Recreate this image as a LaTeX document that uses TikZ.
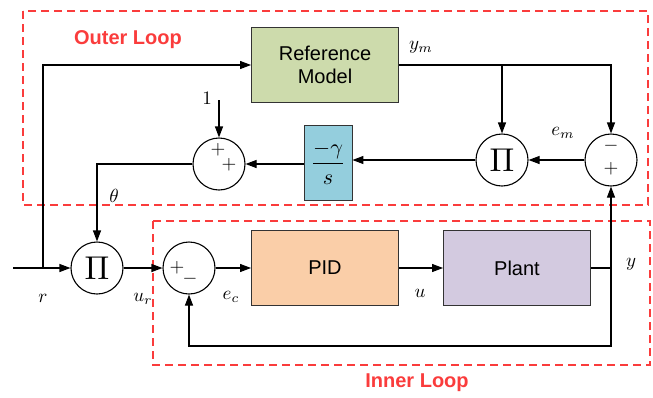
\documentclass[tikz,border=0pt]{standalone}
\usepackage{fontspec}
\setmainfont{Liberation Sans}
\usetikzlibrary{arrows.meta}

\definecolor{refgreen}{RGB}{205,219,172}
\definecolor{gainblue}{RGB}{148,206,221}
\definecolor{pidorange}{RGB}{250,206,168}
\definecolor{plantlilac}{RGB}{211,202,224}
\definecolor{loopred}{RGB}{250,60,60}

% enlarged math symbol
\newcommand{\bigsym}[2]{\scalebox{#1}{$#2$}}

\begin{document}
\begin{tikzpicture}[
  x=1pt, y=-1pt,
  >={Triangle[length=11pt,width=8pt]},
  line width=1.1pt,
  block/.style={draw=black!80, line width=0.9pt, minimum width=147pt,
    minimum height=75pt, align=center, font=\fontsize{20}{23}\selectfont},
  junction/.style={draw, circle, minimum size=52pt, inner sep=0pt},
  loopbox/.style={draw=loopred, line width=1.1pt, dash pattern=on 8pt off 5pt},
  looptitle/.style={text=loopred, font=\fontsize{20}{23}\selectfont\bfseries}
]
  \useasboundingbox (0,0) rectangle (653,397);

  % Loop frames
  \draw[loopbox] (23,11) rectangle (648,205);
  \draw[loopbox] (153,221) rectangle (650,365);
  \node[looptitle] (outertitle) at (128,40) {Outer Loop};
  \node[looptitle] (innertitle) at (417,383) {Inner Loop};

  % Blocks
  \node[block, fill=refgreen] (refmodel) at (325,65) {Reference\\Model};
  \node[block, fill=gainblue, minimum width=48pt, font=\normalsize]
    (gain) at (328,163) {\bigsym{2.2}{\displaystyle\frac{-\gamma}{s}}};
  \node[block, fill=pidorange] (pid) at (325,268) {PID};
  \node[block, fill=plantlilac] (plant) at (517,268) {Plant};

  % Junctions
  \node[junction] (sumone) at (219,164) {};
  \node[junction] (prodm) at (502,160) {\bigsym{3.3}{\Pi}};
  \node[junction] (errm) at (611,160) {};
  \node[junction] (prodr) at (97,268) {\bigsym{3.3}{\Pi}};
  \node[junction] (sumc) at (189,268) {};

  % Signs
  \node (sgnonea) at (218,150) {\bigsym{1.9}{+}};
  \node (sgnoneb) at (229,165) {\bigsym{1.9}{+}};
  \node (sgnca) at (177,268) {\bigsym{1.9}{+}};
  \node (sgncb) at (190,279) {\bigsym{1.9}{-}};
  \node (sgnma) at (611,146) {\bigsym{1.9}{-}};
  \node (sgnmb) at (611,169) {\bigsym{1.9}{+}};

  % Free ends
  \coordinate (rin) at (13,268);
  \coordinate (rsplit) at (43,268);
  \coordinate (one) at (219,100);
  \coordinate (ysplit) at (611,268);
  \coordinate (fbcorner) at (611,346);

  % Outer loop signals
  \draw[->] (rsplit) |- (refmodel.west);
  \draw[->] (refmodel.east) -| (errm.north);
  \draw[->] (prodm.north |- refmodel.east) -- (prodm.north);
  \draw[->] (errm.west) -- (prodm.east);
  \draw[->] (prodm.west) -- (prodm.west -| gain.east);
  \draw[->] (gain.west |- sumone.east) -- (sumone.east);
  \draw[->] (one) -- (sumone.north);
  \draw[->] (sumone.west) -| (prodr.north);

  % Inner loop signals
  \draw[->] (rin) -- (prodr.west);
  \draw[->] (prodr.east) -- (sumc.west);
  \draw[->] (sumc.east) -- (pid.west);
  \draw[->] (pid.east) -- (plant.west);
  \draw[->] (plant.east) -| (errm.south);
  \draw[->] (ysplit) -- (fbcorner) -| (sumc.south);

  % Signal labels
  \node (onelbl) at (207,98) {\bigsym{1.9}{1}};
  \node (ymlbl) at (421,47) {\bigsym{1.9}{y_m}};
  \node (emlbl) at (563,133) {\bigsym{1.9}{e_m}};
  \node (thetalbl) at (114,196) {\bigsym{1.9}{\theta}};
  \node (rlbl) at (43,298) {\bigsym{1.9}{r}};
  \node (urlbl) at (143,299) {\bigsym{1.9}{u_r}};
  \node (eclbl) at (231,297) {\bigsym{1.9}{e_c}};
  \node (ulbl) at (420,293) {\bigsym{1.9}{u}};
  \node (ylbl) at (631,264) {\bigsym{1.9}{y}};
\end{tikzpicture}
\end{document}
